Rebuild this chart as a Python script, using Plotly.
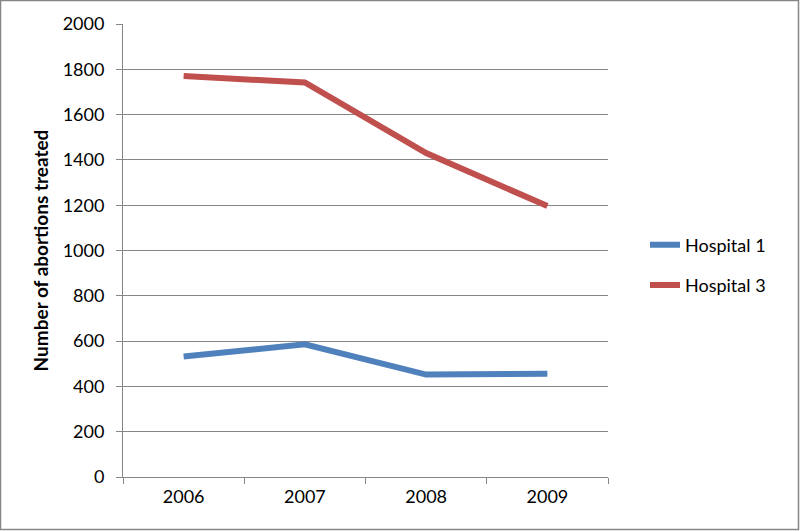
import plotly.graph_objects as go

years = ["2006", "2007", "2008", "2009"]
hospital1 = [532, 586, 452, 456]
hospital3 = [1770, 1742, 1430, 1196]
y_ticks = [0, 200, 400, 600, 800, 1000, 1200, 1400, 1600, 1800, 2000]

FONT = "Lato, Open Sans, sans-serif"

fig = go.Figure()
fig.add_trace(go.Scatter(x=years, y=hospital1, mode="lines", name="Hospital 1",
                         line=dict(color="#4F81BD", width=6), legendgroup="a"))
fig.add_trace(go.Scatter(x=years, y=hospital3, mode="lines", name="Hospital 3",
                         line=dict(color="#C0504D", width=6), legendgroup="b"))

L, R, T, B = 123, 192, 24, 54
W, H = 800, 531
pw, ph = W - L - R, H - T - B

fig.update_layout(
    width=W, height=H,
    margin=dict(l=L, r=R, t=T, b=B),
    paper_bgcolor="white", plot_bgcolor="white",
    font=dict(family=FONT, size=18, color="black"),
    showlegend=True,
    legend=dict(x=(645 - L) / pw, xanchor="left", y=(H - B - 265) / ph, yanchor="middle",
                font=dict(family=FONT, size=18, color="black"),
                tracegroupgap=14, bgcolor="rgba(0,0,0,0)"),
    xaxis=dict(type="category", showgrid=False, showline=True, linecolor="#868686",
               linewidth=1, ticks="outside", tickson="boundaries", ticklen=6,
               tickcolor="#868686", tickfont=dict(size=18), range=[-0.5, 3.5],
               ticklabelstandoff=3),
    yaxis=dict(range=[0, 2000], tickvals=y_ticks, showgrid=True, gridcolor="#868686",
               gridwidth=1, showline=True, linecolor="#868686", linewidth=1,
               ticks="outside", ticklen=6, tickcolor="#868686", tickfont=dict(size=18),
               zeroline=False, ticklabelstandoff=8,
               title=dict(text="<b>Number of abortions treated</b>", standoff=8,
                          font=dict(family=FONT, size=19, color="black"))),
    shapes=[dict(type="rect", xref="paper", yref="paper",
                 x0=(-L + 0.5) / pw, x1=(W - L - 1.5) / pw,
                 y0=(-B + 1.5) / ph, y1=(H - B - 0.5) / ph,
                 line=dict(color="#868686", width=1.5), layer="below")],
)

fig.write_html("out.html", config={"displayModeBar": False},
               post_script="document.body.style.margin='0px';document.body.style.overflow='hidden';")
